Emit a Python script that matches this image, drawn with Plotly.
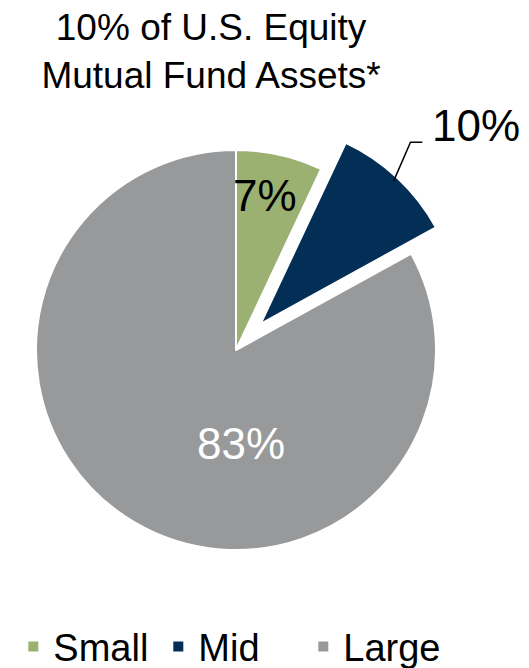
import plotly.graph_objects as go

# data
segments = ["Small", "Mid", "Large"]
shares = [7, 10, 83]
pulls = [0, 0.18, 0]

SEG_COLORS = {
    "Small": "#9bb172",
    "Mid":   "#032f57",
    "Large": "#98999b",
}
FONT = "Liberation Sans, Arial, sans-serif"

fig = go.Figure(go.Pie(
    labels=segments,
    values=shares,
    pull=pulls,
    sort=False,
    direction="clockwise",
    rotation=0,
    textinfo="none",
    hoverinfo="label+percent",
    marker=dict(colors=[SEG_COLORS[s] for s in segments],
                line=dict(color="white", width=2)),
    domain=dict(x=[0, 1], y=[0, 1]),
))

# slice labels (text built from the values)
lbl = {s: f"{v}%" for s, v in zip(segments, shares)}
fig.add_annotation(x=0.5606, y=0.8278, xref="paper", yref="paper",
                   xanchor="center", yanchor="middle",
                   text=lbl["Small"], showarrow=False,
                   font=dict(size=44, color="black", family=FONT))
fig.add_annotation(x=0.5104, y=0.3017, xref="paper", yref="paper",
                   xanchor="center", yanchor="middle",
                   text=lbl["Large"], showarrow=False,
                   font=dict(size=44, color="white", family=FONT))
fig.add_annotation(x=0.9112, y=0.975, xref="paper", yref="paper",
                   xanchor="left", yanchor="middle",
                   text=lbl["Mid"], showarrow=False,
                   font=dict(size=44, color="black", family=FONT))
# leader line for the outside label
fig.add_shape(type="path", xref="paper", yref="paper",
              path="M 0.8341 0.8583 L 0.8697 0.9400 L 0.8947 0.9400",
              line=dict(color="black", width=1.5))

fig.update_layout(
    width=529,
    height=668,
    title=dict(text="10% of U.S. Equity<br>Mutual Fund Assets*",
               x=0.399, xanchor="center", xref="container",
               y=0.94, yanchor="top", yref="container",
               font=dict(size=37, color="black", family=FONT)),
    showlegend=True,
    legend=dict(orientation="h", x=0.489, xanchor="center",
                y=-0.129, yanchor="middle", entrywidth=100,
                font=dict(size=38, color="black", family=FONT)),
    margin=dict(l=0, r=57, t=114, b=82, autoexpand=False),
    plot_bgcolor="white",
    paper_bgcolor="white",
    font=dict(family=FONT),
)

fig.write_html("out.html", config={"displayModeBar": False},
               post_script="document.body.style.margin='0px';")
